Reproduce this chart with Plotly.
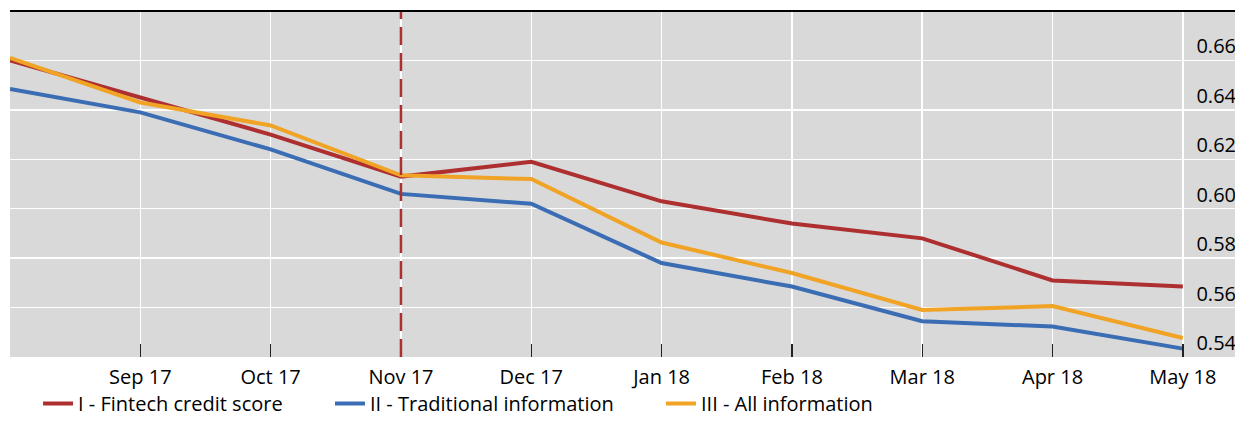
import plotly.graph_objects as go

months = ["Aug 17", "Sep 17", "Oct 17", "Nov 17", "Dec 17", "Jan 18",
          "Feb 18", "Mar 18", "Apr 18", "May 18"]
fintech = [0.660, 0.645, 0.630, 0.613, 0.619, 0.603, 0.594, 0.588, 0.571, 0.5685]
traditional = [0.6485, 0.639, 0.624, 0.606, 0.602, 0.578, 0.5685, 0.5545, 0.5523, 0.5434]
all_info = [0.661, 0.643, 0.6337, 0.6135, 0.612, 0.5863, 0.574, 0.559, 0.5606, 0.5477]
y_ticks = [0.54, 0.56, 0.58, 0.60, 0.62, 0.64, 0.66]
x_ticklabels = [""] + months[1:]
series_names = ["I - Fintech credit score", "II - Traditional information", "III - All information"]
marker_month = "Nov 17"

RED = "#ae2f2f"
BLUE = "#3b6db4"
ORANGE = "#f0a325"
FONT = "Open Sans"
FS = 20

legend_ids = ["legend", "legend2", "legend3"]
legend_x = [0.0229, 0.2612, 0.5314]

fig = go.Figure()
for name, vals, col, lid in zip(series_names, [fintech, traditional, all_info],
                                [RED, BLUE, ORANGE], legend_ids):
    fig.add_trace(go.Scatter(x=months, y=vals, mode="lines", name=name, legend=lid,
                             line=dict(color=col, width=4)))

fig.add_shape(type="line", xref="x", yref="paper", x0=months.index(marker_month),
              x1=months.index(marker_month), y0=0, y1=1,
              line=dict(color=RED, width=2.5, dash="18px,8px"), layer="above")
fig.add_shape(type="line", xref="paper", yref="paper", x0=0, x1=1, y0=1, y1=1,
              line=dict(color="black", width=2), layer="above")

leg_common = dict(orientation="h", xanchor="left", yref="container", y=0.0,
                  yanchor="bottom", font=dict(family=FONT, size=FS, color="#000000"),
                  bgcolor="rgba(0,0,0,0)", borderwidth=0)

fig.update_layout(
    width=1235, height=423,
    margin=dict(l=10, r=0, t=11, b=66, autoexpand=False),
    paper_bgcolor="white", plot_bgcolor="#d9d9d9",
    font=dict(family=FONT, size=FS, color="#000000"),
    showlegend=True,
    legend=dict(x=legend_x[0], **leg_common),
    legend2=dict(x=legend_x[1], **leg_common),
    legend3=dict(x=legend_x[2], **leg_common),
    xaxis=dict(type="category", range=[0, 9.4], tickmode="array",
               tickvals=months, ticktext=x_ticklabels,
               showgrid=True, gridcolor="white", gridwidth=1.5,
               ticks="inside", ticklen=13, tickcolor="#222222", tickwidth=1.3,
               ticklabelstandoff=6,
               showline=False, zeroline=False, fixedrange=True,
               tickfont=dict(size=FS, color="#000000")),
    yaxis=dict(range=[0.54, 0.68], tickmode="array", tickvals=y_ticks,
               ticktext=[f"{v:.2f}" for v in y_ticks],
               side="right", ticklabelposition="inside top",
               ticklabelstandoff=-4,
               showgrid=True, gridcolor="white", gridwidth=1.5,
               ticks="", showline=False, zeroline=False, fixedrange=True,
               tickfont=dict(size=FS, color="#000000")),
)

fig.write_html("out.html", config={"displayModeBar": False, "staticPlot": True},
               post_script="document.body.style.margin='0px';document.body.style.overflow='hidden';")
